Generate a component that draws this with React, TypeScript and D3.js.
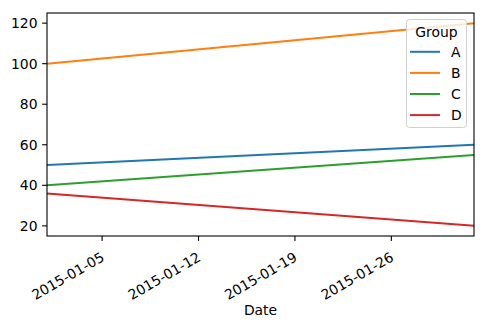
import React from "react";
import * as d3 from "d3";

const seriesNames = ["A", "B", "C", "D"];
const dates = ["2015-01-01", "2015-02-01"];
const valuesA = [50, 60];
const valuesB = [100, 120];
const valuesC = [40, 55];
const valuesD = [36, 20];
const colors = ["#1f77b4", "#ff7f0e", "#2ca02c", "#d62728"];
const yTicks = [20, 40, 60, 80, 100, 120];
const xTickLabels = ["2015-01-05", "2015-01-12", "2015-01-19", "2015-01-26"];

const W = 485, H = 325;
const M = { left: 47, right: 474, top: 13, bottom: 236 };
const font = "DejaVu Sans, sans-serif";
const FS = 13.9;

export default function App() {
  const parse = d3.utcParse("%Y-%m-%d");
  const x = d3.scaleUtc().domain([parse(dates[0])!, parse(dates[1])!]).range([M.left, M.right]);
  const y = d3.scaleLinear().domain([15, 125]).range([M.bottom, M.top]);
  const all = [valuesA, valuesB, valuesC, valuesD];
  const line = d3.line<[Date, number]>().x(d => x(d[0])).y(d => y(d[1]));
  return (
    <svg width={W} height={H} style={{ position: "absolute", left: 0, top: 0, fontFamily: font }}>
      <rect width={W} height={H} fill="#fff" />
      {all.map((vals, i) => (
        <path key={i} d={line(vals.map((v, j) => [parse(dates[j])!, v]))!} fill="none" stroke={colors[i]} strokeWidth={2} />
      ))}
      <rect x={M.left} y={M.top} width={M.right - M.left} height={M.bottom - M.top} fill="none" stroke="#000" strokeWidth={1.1} />
      {yTicks.map(t => (
        <g key={t} transform={`translate(0,${y(t)})`}>
          <line x1={M.left - 4.9} x2={M.left} stroke="#000" strokeWidth={1.1} />
          <text x={M.left - 9.5} dy="0.36em" textAnchor="end" fontSize={FS} fill="#000">{t}</text>
        </g>
      ))}
      {xTickLabels.map(t => {
        const px = x(parse(t)!);
        return (
          <g key={t} transform={`translate(${px},${M.bottom})`}>
            <line y1={0} y2={4.9} stroke="#000" strokeWidth={1.1} />
            <text transform="translate(3.2,24) rotate(-30)" textAnchor="end" fontSize={FS} fill="#000">{t}</text>
          </g>
        );
      })}
      <text x={(M.left + M.right) / 2} y={315} textAnchor="middle" fontSize={FS} fill="#000">Date</text>
      <g transform="translate(406.5,19.5)">
        <rect x={0} y={0} width={60} height={108} rx={3} fill="#fff" fillOpacity={0.8} stroke="#d0d0d0" strokeWidth={1} />
        <text x={30} y={12.2} dy="0.36em" textAnchor="middle" fontSize={FS} fill="#000">Group</text>
        {seriesNames.map((n, i) => (
          <g key={n} transform={`translate(0,${32.3 + i * 21.1})`}>
            <line x1={3.5} x2={33.5} stroke={colors[i]} strokeWidth={2} />
            <text x={44.5} dy="0.36em" fontSize={FS} fill="#000">{n}</text>
          </g>
        ))}
      </g>
    </svg>
  );
}
